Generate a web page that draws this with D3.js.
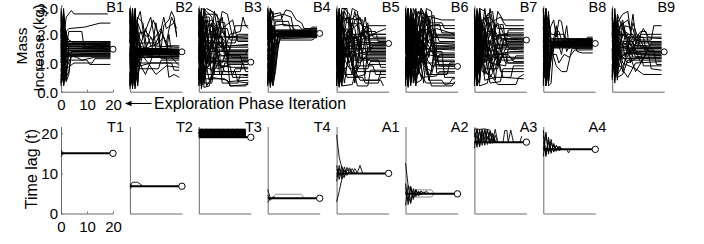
<!DOCTYPE html>
<html><head><meta charset="utf-8">
<script src="https://cdn.jsdelivr.net/npm/d3@7"></script>
<style>
body{margin:0;background:#fff}
svg{display:block}
text{font-family:"Liberation Sans",Arial,Helvetica,sans-serif;fill:#000}
</style>
</head><body>
<svg id="c" width="704" height="244"></svg>
<script>
// ---------- labels / ticks ----------
const topTitles = ["B1","B2","B3","B4","B5","B6","B7","B8","B9"];
const bottomTitles = ["T1","T2","T3","T4","A1","A2","A3","A4"];
const xTicks = [0,10,20];
const topYTicks = [0,1,2,3];
const bottomYTicks = [0,10,20];
const topYLabel = ["Mass","Increase (kg)"];
const bottomYLabel = "Time lag (t)";
const xNote = "Exploration Phase Iteration";

// ---------- final (converged) values, marked with circles ----------
const topFinal = [1.48,1.39,1.03,2.03,1.68,0.88,1.80,1.68,1.39];
const bottomFinal = [15,6.8,19,3.8,10,4.9,17.8,16];

// ---------- top row: mass increase traces, [iteration, kg] ----------
const b1Lines = [
 [[0,2.8],[1,0.5],[2,1.6],[20,1.48]],
 [[0,0.3],[1,2.6],[2,1.7],[5,1.65],[19,1.65]],
 [[0,1.9],[1,0.9],[2,2.1],[3,1.3],[19,1.3]],
 [[0,2.5],[1,1.2],[2,0.4],[3,1.5],[19,1.55]],
 [[0,1.2],[1,2.7],[2,1.75],[19,1.72]],
 [[0,0.7],[1,2.0],[2,1.2],[4,1.4],[19,1.4]],
 [[0,2.2],[1,0.3],[2,1.0],[3,1.6],[19,1.6]],
 [[0,1.5],[1,2.3],[2,0.8],[4,1.25],[19,1.25]],
 [[0,2.0],[1,1.0],[3,2.1],[8,2.1],[9,1.5],[19,1.5]],
 [[0,0.5],[1,1.8],[2,2.6],[4,2.83],[5,2.71],[18,2.71]],
 [[0,1.0],[1,2.0],[3,2.2],[9,2.25],[15,2.39],[19,2.39]],
 [[0,2.4],[1,0.6],[2,1.1],[10,1.1],[11,0.95],[19,0.95]],
 [[0,1.7],[1,0.2],[2,0.8],[5,1.0],[12,1.0],[13,1.15],[19,1.15]],
 [[0,2.6],[1,1.5],[2,0.5],[3,0.7],[4,1.3],[19,1.35]],
 [[0,0.9],[1,1.4],[2,2.0],[3,1.8],[5,1.7],[19,1.7]],
 [[0,2.1],[1,1.7],[2,1.3],[6,1.2],[8,1.1],[13,1.2],[19,1.2]],
 [[0,1.3],[1,2.4],[2,1.45],[19,1.45]],
 [[0,0.4],[1,1.1],[2,1.9],[3,1.55],[19,1.58]],
 [[0,2.3],[1,0.8],[2,1.7],[19,1.62]],
 [[0,1.6],[1,2.9],[2,1.35],[19,1.33]],
 [[0,0.6],[1,0.3],[2,1.5],[19,1.52]],
 [[0,1.8],[1,1.2],[2,1.68],[19,1.68]],
 [[0,2.0],[1,0.7],[2,0.35],[3,0.6],[4,1.4],[19,1.42]],
 [[0,2.7],[1,1.4],[2,1.75],[19,1.75]],
 [[0,0.2],[1,1.6],[2,1.27],[19,1.27]],
 [[0,1.1],[1,2.2],[2,1.57],[19,1.57]],
 [[0,2.9],[1,1.9],[2,1.22],[19,1.22]],
 [[0,0.8],[1,0.4],[2,1.74],[19,1.74]],
 [[0,2.5],[1,2.0],[2,1.38],[19,1.38]],
 [[0,0.3],[1,0.9],[2,1.65],[19,1.6]],
 [[0,1.4],[1,2.8],[2,1.5],[19,1.47]],
 [[0,2.2],[1,0.2],[2,1.3],[19,1.32]],
 [[0,1.0],[1,1.6],[2,0.6],[3,1.44],[19,1.44]]
];
const b2Lines = [
 [[0,2.9],[1,0.1],[2,2.5],[3,0.3],[4,1.4],[20,1.39]],
 [[0,0.2],[1,2.8],[2,0.5],[3,1.8],[5,1.35],[19,1.35]],
 [[0,1.5],[1,0.2],[2,2.7],[3,1.0],[5,1.5],[10,1.3],[19,1.3]],
 [[0,2.6],[1,1.0],[2,0.2],[3,2.3],[4,1.2],[19,1.25]],
 [[0,0.8],[1,2.4],[2,1.4],[3,2.0],[6,1.45],[19,1.45]],
 [[0,2.0],[1,0.4],[2,1.9],[4,0.9],[8,1.0],[19,1.0]],
 [[0,0.1],[1,1.7],[2,2.9],[3,1.3],[19,1.4]],
 [[0,2.3],[2,1.0],[4,2.1],[7,1.9],[9,2.5],[11,2.0],[12,1.4],[19,1.42]],
 [[0,1.2],[1,2.6],[3,0.2],[4,1.6],[6,2.2],[8,1.6],[19,1.55]],
 [[0,2.8],[1,1.8],[2,0.6],[4,1.35],[14,1.35],[15,2.0],[16,1.33],[19,1.33]],
 [[0,0.5],[1,2.2],[2,1.1],[4,0.8],[11,0.8],[12,1.1],[19,1.1]],
 [[0,1.9],[1,0.7],[2,1.5],[12,1.5],[13,2.3],[15,2.5],[16,2.8],[17,2.6],[18,1.9]],
 [[0,2.5],[1,0.3],[2,2.0],[6,2.1],[9,1.8],[12,2.2],[14,1.6],[19,1.6]],
 [[0,0.9],[1,2.9],[2,1.2],[14,1.2],[15,0.5],[17,0.6],[19,0.5]],
 [[0,1.6],[1,0.2],[3,1.4],[19,1.38]],
 [[0,2.2],[1,1.3],[2,0.3],[3,0.6],[5,1.3],[19,1.28]],
 [[0,0.4],[1,2.5],[2,1.7],[6,1.5],[8,1.2],[10,2.4],[12,1.3],[19,1.36]],
 [[0,2.7],[2,0.9],[4,1.5],[15,1.5],[16,1.2],[19,0.9]],
 [[0,1.0],[1,1.9],[2,0.8],[3,1.45],[19,1.4]],
 [[0,1.8],[1,0.6],[2,2.6],[3,1.2],[19,1.2]],
 [[0,0.3],[1,1.4],[2,2.2],[5,1.32],[19,1.32]],
 [[0,2.4],[1,2.1],[3,1.7],[10,1.7],[12,2.1],[14,1.7],[16,2.6],[18,2.2]],
 [[0,1.3],[1,0.15],[2,1.0],[16,1.0],[17,0.75],[19,0.75]],
 [[0,2.1],[1,0.9],[2,1.47],[19,1.47]],
 [[0,2.0],[1,2.7],[2,1.36],[19,1.36]],
 [[0,0.6],[1,0.2],[2,1.3],[19,1.3]],
 [[0,2.8],[1,0.5],[2,1.44],[19,1.44]],
 [[0,1.1],[1,2.3],[2,0.4],[3,1.26],[19,1.24]],
 [[0,0.2],[1,1.5],[2,2.9],[3,1.5],[19,1.52]],
 [[0,2.5],[1,1.2],[2,1.34],[19,1.34]],
 [[0,1.7],[1,2.9],[2,0.9],[3,2.4],[5,1.9],[8,2.6],[10,1.6],[13,1.9],[15,1.4],[19,1.4]],
 [[0,0.6],[1,1.2],[2,0.1],[3,1.1],[6,0.6],[9,1.3],[19,1.3]],
 [[0,2.2],[1,0.8],[2,2.3],[4,2.8],[6,1.5],[11,1.7],[13,2.6],[14,2.2],[17,2.4],[18,2.0]],
 [[0,1.4],[1,0.4],[2,1.6],[7,1.0],[10,0.6],[14,0.9],[19,0.85]],
 [[0,2.9],[1,1.6],[2,2.1],[4,1.1],[8,1.9],[12,1.15],[19,1.15]],
 [[0,0.3],[1,2.0],[2,0.7],[3,2.6],[5,2.4],[7,1.2],[19,1.23]]
];
const b3Lines = [
 [[0,2.8],[1,0.4],[2,1.9],[4,1.2],[8,1.05],[20,1.03]],
 [[0,0.2],[1,2.9],[3,2.8],[5,2.6],[6,2.0],[9,1.6],[19,1.6]],
 [[0,2.5],[1,1.1],[2,0.3],[5,0.3],[6,0.9],[12,0.9],[13,0.5],[19,0.5]],
 [[0,1.4],[1,2.6],[3,2.7],[7,2.7],[8,2.2],[11,2.2],[12,1.8],[19,1.8]],
 [[0,0.6],[1,1.8],[2,2.9],[4,1.4],[10,1.4],[11,1.2],[19,1.2]],
 [[0,2.1],[1,0.2],[2,0.9],[6,0.7],[14,0.7],[15,0.35],[19,0.3]],
 [[0,2.9],[2,2.4],[5,2.5],[8,2.1],[10,1.5],[12,2.0],[16,2.1],[17,2.6],[18,2.3],[19,2.2]],
 [[0,1.0],[1,2.2],[3,1.0],[9,1.0],[10,1.3],[19,1.3]],
 [[0,1.7],[1,0.5],[2,1.5],[7,1.5],[8,0.6],[13,0.6],[14,0.8],[19,0.8]],
 [[0,0.3],[1,1.3],[2,2.0],[6,2.0],[7,1.7],[14,1.7],[15,2.0],[19,2.0]],
 [[0,2.6],[1,1.6],[3,0.2],[5,0.5],[11,0.4],[12,0.2],[19,0.25]],
 [[0,1.2],[1,2.7],[2,1.1],[3,2.3],[6,2.3],[7,1.9],[19,1.95]],
 [[0,2.3],[1,0.8],[2,1.3],[4,0.4],[8,1.1],[19,1.1]],
 [[0,0.5],[1,2.4],[3,1.6],[5,1.8],[11,1.45],[19,1.45]],
 [[0,1.9],[1,2.8],[2,1.7],[4,2.4],[7,2.0],[9,2.6],[11,1.3],[18,1.3],[19,1.5]],
 [[0,0.8],[1,0.2],[2,1.2],[6,1.2],[7,0.8],[11,0.9],[12,1.6],[19,1.65]],
 [[0,2.0],[1,1.0],[3,0.6],[9,0.6],[10,1.0],[17,1.0],[18,0.7],[19,0.7]],
 [[0,2.7],[1,1.4],[2,0.7],[4,2.0],[8,2.4],[10,1.9],[19,1.85]],
 [[0,1.5],[1,0.3],[2,2.5],[3,1.9],[9,1.9],[10,1.15],[19,1.15]],
 [[0,0.4],[1,2.0],[2,0.45],[10,0.45],[11,0.35],[19,0.4]],
 [[0,2.4],[1,1.9],[2,2.8],[3,2.9],[6,2.75],[8,2.5],[9,1.4],[19,1.4]],
 [[0,1.1],[1,2.3],[2,0.6],[5,1.6],[9,1.25],[16,1.25],[17,0.95],[19,0.95]],
 [[0,2.2],[1,0.1],[3,1.0],[6,2.2],[8,0.9],[13,0.85],[19,0.85]],
 [[0,1.3],[1,2.9],[2,0.3],[4,1.7],[9,1.7],[10,1.35],[19,1.35]],
 [[0,0.2],[1,0.8],[2,2.2],[5,2.1],[6,0.6],[19,0.6]],
 [[0,2.9],[1,2.1],[2,1.05],[19,1.05]],
 [[0,1.6],[1,0.4],[2,2.6],[4,2.6],[5,1.55],[19,1.55]],
 [[0,0.7],[1,1.5],[2,0.15],[4,0.2],[7,1.25],[19,1.25]],
 [[0,2.3],[1,2.6],[2,1.8],[6,1.75],[7,2.45],[10,2.4],[11,0.95],[19,0.95]],
 [[0,1.8],[1,0.6],[2,2.9],[3,2.6],[6,1.4],[9,2.8],[11,2.7],[13,1.9],[19,1.9]],
 [[0,0.9],[1,2.5],[2,0.8],[4,0.9],[7,2.3],[9,0.3],[15,0.3],[16,0.6],[19,0.55]],
 [[0,2.5],[1,0.2],[2,1.6],[5,0.7],[8,2.0],[12,1.5],[14,2.3],[19,2.3]],
 [[0,0.4],[1,2.2],[2,1.4],[5,2.4],[7,1.2],[10,0.7],[16,0.7],[17,1.1],[19,1.1]],
 [[0,2.0],[1,2.8],[2,0.5],[4,1.0],[6,2.8],[8,1.6],[13,1.2],[19,1.2]],
 [[0,1.2],[1,0.5],[2,2.1],[3,0.9],[5,1.9],[10,2.1],[12,0.2],[18,0.2],[19,0.35]],
 [[0,2.7],[1,1.7],[2,2.4],[5,1.0],[9,2.2],[13,2.5],[15,1.75],[19,1.75]],
 [[0,0.6],[1,1.1],[3,2.5],[5,0.4],[7,1.45],[19,1.45]]
];
const b4Lines = [
 [[0,2.9],[1,0.3],[2,1.4],[3,2.0],[20,2.03]],
 [[0,0.2],[1,2.7],[2,2.0],[19,2.0]],
 [[0,1.5],[1,0.6],[2,2.2],[3,1.95],[19,1.95]],
 [[0,2.6],[1,1.2],[2,0.4],[3,1.3],[4,2.05],[19,2.05]],
 [[0,0.8],[1,2.9],[2,2.6],[4,2.65],[6,2.7],[9,2.6],[10,2.1],[19,2.1]],
 [[0,2.2],[1,0.15],[2,0.8],[3,1.7],[4,1.9],[19,1.9]],
 [[0,1.1],[1,2.3],[2,1.8],[3,2.15],[19,2.15]],
 [[0,2.8],[2,2.5],[5,2.5],[7,2.85],[9,2.8],[11,2.5],[13,2.4],[14,2.2],[19,2.2]],
 [[0,0.4],[1,1.0],[2,0.2],[3,0.7],[4,1.6],[5,2.0],[19,1.98]],
 [[0,1.8],[1,2.5],[2,1.1],[3,2.08],[19,2.08]],
 [[0,2.4],[1,0.5],[2,1.6],[3,1.8],[17,1.8],[18,1.85]],
 [[0,0.6],[1,1.9],[2,2.8],[3,2.0],[19,2.01]],
 [[0,1.3],[1,0.3],[2,0.5],[3,1.0],[4,1.9],[19,1.93]],
 [[0,2.0],[1,1.4],[2,2.3],[6,2.35],[9,2.3],[11,2.12],[19,2.12]],
 [[0,2.7],[1,0.9],[2,1.2],[3,2.1],[16,2.1],[17,2.25],[19,2.25]],
 [[0,0.3],[1,2.1],[2,1.95],[19,1.96]],
 [[0,1.6],[1,2.8],[2,0.6],[3,1.5],[5,1.85],[19,1.88]],
 [[0,2.5],[1,1.7],[2,2.04],[19,2.04]],
 [[0,1.0],[1,0.2],[2,1.1],[3,2.0],[19,1.99]],
 [[0,2.3],[1,1.1],[3,2.45],[8,2.45],[9,2.05],[19,2.06]],
 [[0,0.5],[1,0.9],[2,0.25],[3,0.9],[4,1.5],[5,2.02],[19,2.02]],
 [[0,1.9],[1,2.9],[2,2.7],[5,2.75],[6,2.3],[12,2.3],[13,2.18],[19,2.18]],
 [[0,2.9],[1,1.8],[2,1.97],[19,1.97]],
 [[0,0.6],[1,0.3],[2,1.5],[3,2.03],[19,2.03]],
 [[0,1.4],[1,2.6],[2,2.1],[19,2.1]],
 [[0,2.1],[1,0.7],[2,2.3],[3,1.92],[19,1.92]],
 [[0,0.25],[1,1.3],[2,0.9],[3,1.5],[4,2.07],[19,2.07]],
 [[0,2.5],[1,2.2],[2,2.14],[19,2.14]]
];
const b5Lines = [
 [[0,2.7],[1,0.3],[2,1.6],[6,1.8],[12,1.7],[20,1.68]],
 [[0,0.2],[1,2.8],[2,2.5],[5,2.6],[7,1.3],[12,1.4],[19,1.4]],
 [[0,1.9],[1,0.6],[2,0.2],[6,0.25],[8,0.9],[14,0.9],[15,0.6],[19,0.6]],
 [[0,2.4],[1,1.5],[3,2.8],[6,2.2],[9,2.4],[12,2.0],[19,2.0]],
 [[0,0.9],[1,2.2],[2,1.1],[4,0.5],[10,0.5],[11,0.3],[16,0.3],[17,0.5],[19,0.5]],
 [[0,1.5],[1,2.6],[2,0.8],[3,1.9],[8,1.9],[9,1.5],[19,1.5]],
 [[0,2.8],[1,1.2],[2,2.3],[5,1.2],[9,1.0],[11,1.2],[19,1.2]],
 [[0,0.5],[1,1.8],[2,2.8],[4,2.4],[8,2.7],[10,2.3],[13,2.2],[14,1.9],[19,1.9]],
 [[0,2.1],[1,0.2],[2,1.3],[5,0.8],[12,0.8],[13,1.05],[19,1.05]],
 [[0,1.2],[1,2.0],[2,0.4],[4,1.6],[9,1.6],[10,2.1],[15,2.1],[16,1.75],[19,1.75]],
 [[0,2.5],[1,0.9],[3,1.4],[7,1.4],[8,0.7],[19,0.7]],
 [[0,0.3],[1,1.4],[2,2.6],[3,2.0],[9,1.8],[12,2.4],[13,1.6],[19,1.6]],
 [[0,1.8],[1,2.9],[2,1.7],[5,1.0],[7,2.0],[10,1.3],[19,1.3]],
 [[0,0.7],[1,0.4],[2,2.0],[4,2.2],[6,0.9],[9,0.4],[17,0.4],[18,0.2]],
 [[0,2.2],[1,1.6],[2,0.6],[3,2.5],[5,2.6],[8,1.1],[16,1.1],[17,0.85],[19,0.85]],
 [[0,1.4],[1,2.4],[2,1.9],[4,1.2],[7,2.5],[9,2.6],[11,1.9],[19,2.2]],
 [[0,2.6],[1,0.7],[2,1.0],[3,0.3],[5,1.5],[11,1.5],[12,1.25],[19,1.25]],
 [[0,1.0],[1,1.9],[3,2.9],[5,2.7],[6,1.7],[19,1.72]],
 [[0,2.0],[1,0.3],[2,2.1],[3,0.6],[6,0.6],[7,1.9],[11,1.95],[12,1.45],[19,1.45]],
 [[0,0.4],[1,2.5],[2,1.5],[6,1.6],[8,1.0],[10,2.2],[12,0.95],[19,0.95]],
 [[0,2.9],[1,1.1],[2,0.3],[4,2.0],[7,0.3],[9,1.35],[19,1.35]],
 [[0,1.6],[1,0.15],[2,2.4],[4,2.55],[10,2.5],[11,1.8],[19,1.8]],
 [[0,1.1],[1,2.8],[2,0.6],[4,0.9],[6,2.4],[8,2.35],[9,1.15],[19,1.15]],
 [[0,2.3],[1,0.4],[2,1.8],[5,2.2],[7,0.5],[11,0.6],[12,1.55],[19,1.55]],
 [[0,0.6],[1,1.2],[2,2.9],[4,2.9],[5,2.0],[10,2.0],[11,1.85],[19,1.85]],
 [[0,2.6],[1,2.2],[2,1.2],[5,1.4],[8,0.2],[12,0.2],[13,0.75],[19,0.75]],
 [[0,1.7],[1,0.2],[2,0.9],[3,2.2],[6,1.65],[19,1.65]],
 [[0,0.9],[1,2.6],[3,1.1],[7,2.8],[9,2.0],[12,2.1],[13,1.35],[19,1.35]],
 [[0,1.3],[1,2.3],[2,0.2],[3,1.2],[6,2.9],[8,2.8],[10,1.1],[14,1.6],[19,1.6]],
 [[0,2.4],[1,0.6],[3,2.0],[6,0.9],[9,2.1],[11,0.4],[16,0.4],[17,0.7],[19,0.7]],
 [[0,0.2],[1,1.7],[2,2.2],[4,1.7],[7,0.8],[10,1.85],[15,2.0],[19,2.0]],
 [[0,2.8],[1,2.0],[2,1.4],[4,2.6],[7,2.2],[9,1.2],[13,1.1],[19,1.1]],
 [[0,1.6],[1,0.3],[2,2.7],[3,1.5],[6,0.6],[9,0.9],[12,2.3],[19,2.3]],
 [[0,0.8],[1,2.9],[2,1.0],[5,1.9],[8,1.4],[11,2.6],[13,1.5],[19,1.5]]
];
const b6Lines = [
 [[0,2.8],[1,0.3],[2,2.5],[3,0.6],[6,1.4],[10,0.9],[20,0.88]],
 [[0,0.2],[1,2.9],[2,1.0],[4,2.7],[6,2.8],[8,2.0],[12,2.2],[19,2.0]],
 [[0,1.7],[1,0.5],[2,2.8],[3,1.5],[7,1.6],[9,0.4],[14,0.4],[15,0.25],[19,0.3]],
 [[0,2.4],[1,1.2],[2,0.2],[4,1.8],[8,1.8],[9,2.6],[11,1.5],[19,1.5]],
 [[0,0.6],[1,2.2],[2,1.7],[3,0.3],[6,2.4],[9,2.5],[11,1.1],[19,1.1]],
 [[0,2.9],[1,1.8],[2,0.7],[4,0.7],[5,2.0],[7,2.6],[10,1.9],[19,1.85]],
 [[0,1.1],[1,0.2],[2,2.0],[4,1.2],[6,0.5],[12,0.55],[13,0.7],[19,0.7]],
 [[0,2.0],[1,2.6],[2,0.4],[3,2.7],[5,1.3],[8,1.2],[10,1.7],[19,1.65]],
 [[0,0.4],[1,1.5],[2,2.9],[4,2.3],[7,1.0],[12,1.0],[13,1.3],[19,1.3]],
 [[0,2.6],[1,0.7],[2,1.4],[3,2.2],[5,0.9],[7,2.2],[9,2.4],[14,2.4],[15,2.2],[19,2.2]],
 [[0,1.4],[1,2.4],[2,0.3],[3,1.0],[8,0.3],[17,0.3],[18,0.45],[19,0.45]],
 [[0,2.2],[1,1.0],[2,2.6],[4,0.5],[6,1.6],[11,1.4],[12,0.8],[19,0.8]],
 [[0,0.8],[1,2.8],[2,1.2],[3,1.9],[5,2.8],[7,2.7],[8,1.5],[19,1.45]],
 [[0,1.9],[1,0.4],[2,1.8],[4,2.5],[6,1.1],[9,1.8],[12,1.95],[19,1.95]],
 [[0,2.7],[1,1.4],[2,0.6],[3,2.4],[5,1.7],[9,0.6],[16,0.6],[17,1.0],[19,1.0]],
 [[0,0.3],[1,2.1],[2,1.6],[4,0.3],[6,0.4],[8,1.3],[14,1.2],[19,1.2]],
 [[0,1.6],[1,2.9],[2,2.2],[5,2.3],[6,2.9],[8,2.5],[10,1.6],[19,1.6]],
 [[0,2.3],[1,0.9],[2,2.4],[3,0.8],[5,2.1],[8,0.8],[10,0.2],[18,0.2],[19,0.35]],
 [[0,1.0],[1,1.7],[2,0.5],[4,1.5],[6,2.0],[9,1.2],[11,2.2],[13,1.75],[19,1.75]],
 [[0,2.5],[1,0.6],[2,1.9],[3,1.2],[6,1.3],[8,2.7],[10,2.1],[12,1.05],[19,1.05]],
 [[0,0.5],[1,2.5],[2,0.9],[3,2.9],[5,2.6],[7,0.9],[10,0.7],[11,1.55],[19,1.55]],
 [[0,2.1],[1,0.15],[2,1.3],[4,2.0],[7,0.3],[9,2.3],[13,2.35],[14,2.05],[19,2.05]],
 [[0,1.3],[1,2.0],[3,0.8],[5,1.8],[8,2.6],[11,2.65],[12,1.35],[19,1.35]],
 [[0,2.8],[1,1.3],[2,0.5],[4,2.8],[6,2.7],[8,0.6],[10,0.6],[11,0.95],[19,0.95]],
 [[0,0.4],[1,2.4],[2,1.1],[4,0.2],[7,2.1],[10,2.3],[12,1.9],[19,1.9]],
 [[0,1.8],[1,0.6],[2,2.9],[3,2.1],[6,1.0],[9,1.4],[14,1.4],[15,0.5],[19,0.5]],
 [[0,2.3],[1,2.8],[2,1.5],[4,1.1],[6,2.5],[9,1.7],[19,1.7]],
 [[0,1.2],[1,0.3],[2,1.6],[5,0.8],[7,1.9],[11,1.25],[19,1.25]],
 [[0,2.6],[1,1.9],[2,0.8],[3,1.4],[6,2.9],[8,2.6],[9,2.3],[19,2.3]],
 [[0,1.5],[1,2.7],[2,0.3],[4,2.2],[6,1.0],[8,2.8],[10,2.0],[13,0.9],[19,0.9]],
 [[0,2.9],[1,0.4],[2,1.3],[3,2.6],[5,0.6],[7,1.5],[10,2.6],[14,2.5],[19,2.5]],
 [[0,0.7],[1,1.6],[2,2.7],[4,0.9],[6,2.2],[9,0.4],[12,1.6],[19,1.55]],
 [[0,2.1],[1,2.9],[2,1.0],[3,0.5],[6,1.8],[8,1.0],[11,2.0],[19,2.0]],
 [[0,1.0],[1,0.2],[2,2.3],[4,2.9],[6,0.8],[9,2.2],[12,1.2],[19,1.2]],
 [[0,2.4],[1,1.4],[2,2.0],[4,0.4],[6,1.4],[8,2.9],[10,2.8],[12,0.65],[19,0.65]]
];
const b7Lines = [
 [[0,2.7],[1,0.4],[2,2.0],[4,1.6],[8,1.85],[20,1.8]],
 [[0,0.2],[1,2.8],[2,1.0],[3,2.5],[6,2.6],[9,2.2],[19,2.2]],
 [[0,1.8],[1,0.6],[2,0.2],[5,0.3],[7,1.3],[12,1.3],[13,1.0],[19,1.0]],
 [[0,2.4],[1,1.5],[2,2.9],[4,2.8],[6,2.0],[9,2.4],[11,1.6],[19,1.6]],
 [[0,0.9],[1,2.1],[2,1.4],[4,0.8],[9,0.8],[10,1.2],[19,1.2]],
 [[0,2.9],[1,1.1],[2,0.5],[3,2.2],[7,1.9],[10,2.0],[19,2.0]],
 [[0,1.3],[1,2.5],[2,1.8],[5,2.7],[7,2.8],[9,1.5],[19,1.45]],
 [[0,0.5],[1,1.7],[2,2.6],[3,0.7],[6,0.6],[9,0.25],[16,0.25],[17,0.5],[19,0.6]],
 [[0,2.2],[1,0.3],[2,1.6],[7,1.7],[8,2.3],[11,2.35],[12,1.75],[19,1.75]],
 [[0,1.5],[1,2.9],[2,1.2],[4,1.9],[6,1.0],[12,0.9],[13,1.5],[19,1.5]],
 [[0,2.5],[1,0.8],[2,2.3],[4,2.1],[6,0.5],[8,0.8],[12,2.0],[14,1.9],[19,1.9]],
 [[0,0.4],[1,1.3],[2,0.8],[3,1.5],[9,1.4],[10,0.7],[19,0.7]],
 [[0,1.9],[1,2.6],[2,0.3],[4,2.3],[8,2.5],[10,2.6],[12,2.3],[19,2.3]],
 [[0,1.0],[1,0.2],[2,2.2],[3,1.1],[7,1.1],[8,1.65],[19,1.65]],
 [[0,2.6],[1,1.9],[2,0.9],[5,1.3],[10,1.1],[12,1.35],[19,1.35]],
 [[0,0.7],[1,2.4],[2,1.7],[4,0.4],[8,0.5],[14,0.5],[15,0.9],[19,0.9]],
 [[0,2.1],[1,1.0],[3,2.4],[5,1.5],[9,1.9],[13,2.05],[19,2.05]],
 [[0,1.2],[1,2.0],[2,2.8],[3,1.3],[7,2.2],[9,1.1],[15,1.1],[16,1.25],[19,1.25]],
 [[0,2.8],[1,0.5],[2,1.5],[4,2.9],[6,1.4],[10,1.55],[19,1.55]],
 [[0,0.3],[1,1.6],[2,2.4],[4,1.0],[7,2.0],[11,1.85],[19,1.85]],
 [[0,1.6],[1,2.2],[2,0.6],[4,1.7],[6,2.4],[9,1.3],[14,1.4],[19,1.4]],
 [[0,1.1],[1,2.7],[2,0.6],[4,1.8],[7,0.9],[10,1.0],[11,1.7],[19,1.7]],
 [[0,2.4],[1,0.2],[2,1.9],[4,2.6],[6,2.7],[8,1.2],[14,1.2],[15,1.05],[19,1.05]],
 [[0,0.6],[1,1.4],[2,2.9],[3,2.0],[6,0.3],[10,0.35],[11,0.8],[19,0.8]],
 [[0,2.7],[1,2.2],[2,1.1],[5,2.1],[8,2.1],[9,1.95],[19,1.95]],
 [[0,1.5],[1,0.7],[2,2.5],[4,1.2],[7,1.6],[12,1.6],[13,2.15],[19,2.15]],
 [[0,0.3],[1,2.1],[2,1.3],[5,0.6],[9,1.3],[13,1.3],[14,1.15],[19,1.15]],
 [[0,2.0],[1,2.8],[2,0.4],[4,2.2],[6,1.0],[9,2.8],[11,2.5],[19,2.5]],
 [[0,0.8],[1,1.9],[2,2.6],[4,0.6],[6,1.8],[9,0.9],[13,1.7],[19,1.7]],
 [[0,2.6],[1,0.9],[3,1.4],[5,2.6],[8,1.5],[11,0.5],[19,0.45]],
 [[0,1.4],[1,0.3],[2,2.0],[4,1.2],[6,2.9],[8,2.0],[12,1.0],[19,1.0]],
 [[0,2.3],[1,1.5],[2,2.9],[4,1.6],[7,0.7],[10,2.3],[13,1.55],[19,1.55]],
 [[0,0.5],[1,2.3],[2,1.1],[5,2.0],[8,0.4],[10,1.8],[19,1.8]]
];
const b8Lines = [
 [[0,2.9],[1,0.3],[2,1.5],[3,1.7],[20,1.68]],
 [[0,0.2],[1,2.7],[2,1.2],[4,1.75],[19,1.75]],
 [[0,1.6],[1,0.5],[2,2.8],[3,1.6],[19,1.6]],
 [[0,2.4],[1,1.3],[2,0.3],[3,1.2],[4,1.8],[19,1.78]],
 [[0,0.8],[1,2.2],[2,1.7],[19,1.72]],
 [[0,2.2],[1,0.9],[2,2.0],[3,2.3],[4,2.5],[5,1.9],[6,2.5],[7,2.45],[8,1.9],[9,1.4],[10,1.6],[19,1.62]],
 [[0,1.2],[1,2.6],[2,0.7],[3,1.4],[5,2.3],[6,1.6],[7,1.3],[9,2.3],[10,1.5],[11,1.6],[19,1.65]],
 [[0,2.7],[1,1.8],[2,0.4],[3,1.5],[5,0.9],[7,0.7],[9,0.7],[10,1.1],[11,1.5],[19,1.5]],
 [[0,0.4],[1,1.5],[2,2.3],[3,1.85],[19,1.85]],
 [[0,1.9],[1,0.2],[2,1.0],[4,1.55],[19,1.55]],
 [[0,0.6],[1,2.9],[2,1.8],[5,1.7],[19,1.7]],
 [[0,2.5],[1,0.6],[2,1.4],[3,1.3],[5,1.3],[6,1.0],[8,1.3],[10,1.2],[12,1.45],[19,1.46]],
 [[0,1.4],[1,2.4],[2,0.2],[3,0.3],[4,1.6],[5,2.1],[6,2.1],[7,1.8],[19,1.8]],
 [[0,2.0],[1,1.1],[2,2.5],[3,1.65],[19,1.66]],
 [[0,0.3],[1,1.9],[2,0.9],[3,1.75],[16,1.75],[17,1.9],[19,1.9]],
 [[0,2.8],[1,1.6],[2,1.1],[3,1.58],[19,1.58]],
 [[0,1.0],[1,0.4],[2,2.1],[3,1.7],[12,1.7],[13,1.4],[15,1.35],[19,1.35]],
 [[0,1.7],[1,2.8],[3,2.0],[8,2.0],[9,1.82],[19,1.82]],
 [[0,2.3],[1,0.3],[2,0.6],[3,1.1],[4,1.62],[19,1.63]],
 [[0,0.5],[1,2.1],[2,1.35],[3,1.68],[19,1.69]],
 [[0,2.6],[1,0.8],[2,1.9],[3,1.52],[19,1.53]],
 [[0,2.2],[1,2.9],[2,1.72],[19,1.73]],
 [[0,0.4],[1,0.7],[2,1.61],[19,1.61]],
 [[0,1.5],[1,2.3],[2,0.3],[3,1.77],[19,1.77]],
 [[0,2.9],[1,1.0],[2,1.64],[19,1.64]],
 [[0,0.9],[1,1.7],[2,2.6],[3,1.56],[19,1.56]],
 [[0,1.8],[1,0.2],[2,1.83],[19,1.83]]
];
const b9Lines = [
 [[0,2.6],[1,0.6],[2,1.8],[5,1.5],[10,1.4],[20,1.39]],
 [[0,0.5],[1,2.7],[2,1.2],[4,2.0],[8,2.0],[9,1.7],[19,1.7]],
 [[0,1.8],[1,0.8],[2,2.4],[4,2.7],[6,2.8],[7,2.1],[8,2.7],[9,1.9],[19,1.85]],
 [[0,2.3],[1,1.4],[2,0.5],[4,0.6],[6,1.1],[19,1.1]],
 [[0,0.7],[1,2.0],[2,1.5],[6,1.6],[8,1.2],[12,1.25],[19,1.25]],
 [[0,2.8],[1,1.1],[2,0.4],[3,1.7],[10,1.6],[11,2.0],[19,2.0]],
 [[0,1.2],[1,2.5],[2,2.0],[4,1.0],[9,0.8],[12,0.6],[19,0.6]],
 [[0,2.0],[1,0.5],[2,1.3],[5,2.3],[8,2.2],[10,1.5],[19,1.5]],
 [[0,0.9],[1,1.8],[2,0.7],[4,1.3],[11,1.35],[12,0.9],[19,0.9]],
 [[0,2.5],[1,2.1],[2,1.0],[3,2.3],[6,2.5],[8,1.8],[15,1.8],[16,2.3],[19,2.3]],
 [[0,1.5],[1,0.4],[2,2.6],[3,1.2],[7,1.4],[14,1.3],[15,0.8],[19,0.75]],
 [[0,0.6],[1,1.6],[2,2.2],[5,1.9],[12,1.9],[13,1.45],[19,1.45]],
 [[0,2.2],[1,0.9],[3,1.55],[19,1.55]],
 [[0,1.1],[1,2.3],[2,0.8],[3,0.9],[6,0.5],[9,1.0],[19,1.05]],
 [[0,1.9],[1,1.2],[2,2.7],[4,2.2],[7,1.6],[11,2.1],[13,2.1],[14,1.65],[19,1.65]],
 [[0,2.4],[1,0.7],[2,1.6],[4,1.15],[19,1.18]],
 [[0,0.4],[1,2.9],[2,1.9],[4,1.75],[8,1.75],[9,1.3],[19,1.3]],
 [[0,1.4],[1,2.2],[2,0.9],[5,1.95],[9,1.6],[13,1.6],[14,1.4],[19,1.4]],
 [[0,2.7],[1,1.0],[2,1.45],[6,1.0],[10,1.2],[19,1.2]],
 [[0,0.8],[1,2.6],[2,1.35],[19,1.35]],
 [[0,2.9],[1,0.6],[2,1.7],[5,1.5],[19,1.52]],
 [[0,1.6],[1,1.9],[2,0.6],[4,0.9],[8,1.6],[19,1.6]],
 [[0,2.1],[1,0.3],[2,2.0],[6,1.95],[9,1.2],[14,1.15],[19,1.15]],
 [[0,0.5],[1,1.3],[2,2.3],[5,2.1],[10,1.75],[19,1.75]],
 [[0,2.3],[1,1.6],[2,1.0],[4,1.45],[16,1.45],[17,0.95],[19,0.95]],
 [[0,1.3],[1,2.4],[2,0.6],[4,2.4],[7,1.0],[10,2.0],[13,1.35],[19,1.35]],
 [[0,2.6],[1,0.5],[2,1.9],[4,0.7],[7,1.9],[11,1.0],[15,1.7],[19,1.7]],
 [[0,0.7],[1,1.5],[2,2.5],[5,1.2],[8,2.4],[11,1.55],[19,1.55]],
 [[0,2.0],[1,2.6],[2,1.2],[5,1.7],[9,0.7],[13,1.3],[19,1.25]],
 [[0,1.5],[1,0.8],[2,2.0],[4,2.5],[7,1.3],[12,2.2],[14,1.9],[19,1.9]]
];
const topLines = [b1Lines,b2Lines,b3Lines,b4Lines,b5Lines,b6Lines,b7Lines,b8Lines,b9Lines];

// ---------- bottom row: time-lag traces, [iteration, t] ----------
const t1Lines = [
 [[0,15.8],[1,15]],
 [[0,14.2],[1,15]]
];
const t2Lines = [
 [[0,6.8],[1,7.8],[3,7.8],[4,7.3],[5,6.8]],
 [[0,7.4],[1,6.8]],
 [[0,6.2],[1,6.8]]
];
const t3Lines = [
 [[0,19.2],[1,21],[2,19.2],[3,21],[4,19.2],[5,21],[6,19.2],[7,21],[8,19.2],[9,21],[10,19.2],[11,21],[12,19.2],[13,21],[14,19.2],[15,21],[16,19.2],[17,21],[18,19.2]],
 [[0,21],[1,19.2],[2,21],[3,19.2],[4,21],[5,19.2],[6,21],[7,19.2],[8,21],[9,19.2],[10,21],[11,19.2],[12,21],[13,19.2],[14,21],[15,19.2],[16,21],[17,19.2],[18,21]],
 [[0,20.1],[0.5,21],[1.5,19.2],[2.5,21],[3.5,19.2],[4.5,21],[5.5,19.2],[6.5,21],[7.5,19.2],[8.5,21],[9.5,19.2],[10.5,21],[11.5,19.2],[12.5,21],[13.5,19.2],[14.5,21],[15.5,19.2],[16.5,21],[17.5,19.2],[18,20.1]],
 [[0,20.1],[0.5,19.2],[1.5,21],[2.5,19.2],[3.5,21],[4.5,19.2],[5.5,21],[6.5,19.2],[7.5,21],[8.5,19.2],[9.5,21],[10.5,19.2],[11.5,21],[12.5,19.2],[13.5,21],[14.5,19.2],[15.5,21],[16.5,19.2],[17.5,21],[18,20.1]],
 [[0,20.1],[1,21],[2,20.1],[3,19.2],[4,20.1],[5,21],[6,20.1],[7,19.2],[8,20.1],[9,21],[10,20.1],[11,19.2],[12,20.1],[13,21],[14,20.1],[15,19.2],[16,20.1],[17,21],[18,20.1]],
 [[0,20.1],[1,19.2],[2,20.1],[3,21],[4,20.1],[5,19.2],[6,20.1],[7,21],[8,20.1],[9,19.2],[10,20.1],[11,21],[12,20.1],[13,19.2],[14,20.1],[15,21],[16,20.1],[17,19.2],[18,20.1]],
 [[0,21],[18,21]],
 [[0,20.1],[18,20.1]],
 [[0,19.2],[18,19.2]],
 [[18,19.2],[19,19]]
];
const t4Lines = [
 [[0,6.0],[1,3.8]],
 [[0,2.8],[1,3.8]],
 [[0,4.6],[1,3.3],[2,4.2],[3,3.8]]
];
const t4Gray = [
 [[2,3.8],[3,4.8],[13,4.8],[14,3.8]]
];
const a1Lines = [
 [[0,19.6],[1,14],[2,11.5],[3,10.5],[4,10]],
 [[0,2.9],[1,5.5],[2,8.5],[3,9.5],[4,10]],
 [[0,12],[1,8.5],[2,11.8],[3,9],[4,11.5],[5,10],[6,11.2],[7,10],[8,10.2],[9,12],[10,10]],
 [[0,8],[1,12],[2,9.2],[3,11.6],[4,9.5],[5,11],[6,10]],
 [[0,11],[1,9.5],[2,10.8],[3,9.8],[5,11.4],[6,10],[7,11.2],[8,10]],
 [[0,9.2],[1,11.2],[2,8.6],[3,10.8],[4,10]]
];
const a2Lines = [
 [[0,12.6],[1,7],[2,5.8],[3,5]],
 [[0,7.5],[1,2.2],[2,6.5],[3,3.5],[4,5.8],[5,4.4],[6,5.5],[7,5]],
 [[0,2.0],[1,7],[2,3],[3,6.2],[4,4.2],[5,5.6],[6,4.6],[7,5.4],[8,5]],
 [[0,5.5],[1,3.2],[2,6.8],[3,4],[4,6],[5,4.5],[6,5]],
 [[0,6.5],[1,4.5],[2,2.5],[3,5.5],[4,4.6],[5,5.3],[6,5]],
 [[3,5],[4,5.6],[5,5],[6,5.6],[7,5],[8,5.6],[9,5]]
];
const a2Gray = [
 [[2,5],[3,5.9],[10,5.9],[11,5]],
 [[2,5],[3,4.1],[10,4.1],[11,5]]
];
const a3Lines = [
 [[0,21],[1,16.5],[2,21],[3,17],[4,20.8],[5,17.2],[6,20.5],[7,17.5],[8,19.5],[9,17.8]],
 [[0,16.3],[1,21.1],[2,16.6],[3,20.9],[4,17],[5,21],[6,17.4],[7,20],[8,17.8]],
 [[0,19],[1,21],[2,18],[3,21],[4,18.5],[5,20.8],[6,18],[7,19.8],[8,18.2],[9,17.8]],
 [[0,21.1],[2,21],[4,21.1],[6,20.8],[7,19],[8,17.8]],
 [[0,17.5],[1,19.5],[2,16.8],[3,19.8],[4,17.6],[5,19.2],[6,17.9],[7,18.8],[8,17.8]],
 [[0,20],[1,17.2],[2,20.5],[3,18.2],[4,21],[5,18.5],[6,20.2],[7,18],[8,21],[9,17.8]],
 [[11,17.8],[11.7,20.7],[12.5,20.7],[13,17.8],[14,20.8],[15,17.8]],
 [[17.5,17.8],[18.2,19.3]]
];
const a4Lines = [
 [[0,20.8],[1,14.2],[2,19],[3,15],[4,17.5],[5,15.5],[6,16.5],[7,16]],
 [[0,14.2],[1,20.3],[2,14.8],[3,18.5],[4,15.3],[5,17],[6,15.7],[7,16]],
 [[0,19.5],[1,15],[2,18.2],[3,15.4],[4,17.2],[5,15.6],[6,16.8],[7,16]],
 [[0,16],[1,19.8],[2,15.2],[3,17.8],[4,15.4],[5,16.9],[6,16]],
 [[0,18],[1,14.6],[2,17.6],[3,16],[4,16.8],[5,15.8],[6,16.2],[6.5,16.7],[7,16]],
 [[9,16],[9.7,15.1],[10.4,16]]
];
const bottomLines = [t1Lines,t2Lines,t3Lines,t4Lines,a1Lines,a2Lines,a3Lines,a4Lines];
const bottomGray = [[],[],[],t4Gray,[],a2Gray,[],[]];

// ---------- drawing ----------
const svg = d3.select("#c");
const colLeft = i => 61 + i*68.9;
const panelW = 52;
const axisColor = "#6a6a6a";
const yTop = d3.scaleLinear().domain([0,3]).range([91.7,5.6]);
const yBot = d3.scaleLinear().domain([0,21.7]).range([213.5,126.5]);
const line = (x,y) => d3.line().x(d=>x(d[0])).y(d=>y(d[1]));

function axes(g, x, y, labeled, yTicks, xPad){
  const ax = g.append("g").attr("transform",`translate(0,${y(0)})`)
    .call(labeled ? d3.axisBottom(x).tickValues(xTicks).tickSizeInner(-2).tickSizeOuter(0).tickPadding(xPad)
                  : d3.axisBottom(x).tickValues([]).tickSizeOuter(0));
  const ay = g.append("g").attr("transform",`translate(${x(0)},0)`)
    .call(labeled ? d3.axisLeft(y).tickValues(yTicks).tickSizeInner(-2).tickSizeOuter(0).tickPadding(3)
                  : d3.axisLeft(y).tickValues([]).tickSizeOuter(0));
  // keep the topmost label fully inside the picture
  const yMax = y.domain()[1];
  ay.selectAll(".tick text").attr("dy", d => (y(d) < 10 ? "0.55em" : "0.36em"));
  [ax,ay].forEach(a=>{
    a.attr("font-family",null).attr("font-size",null);
    a.select(".domain").attr("stroke",axisColor).attr("stroke-width",1);
    a.selectAll(".tick line").attr("stroke",axisColor);
    a.selectAll(".tick text").attr("fill","#000").style("font-size","15px")
      .style("font-family",'"Liberation Sans",Arial,sans-serif');
  });
}

// top row
topLines.forEach((lines,i)=>{
  const x = d3.scaleLinear().domain([0,20]).range([colLeft(i), colLeft(i)+panelW]);
  const g = svg.append("g");
  axes(g, x, yTop, i===0, topYTicks, 7.3);
  g.selectAll("path.tr").data(lines).join("path").attr("class","tr")
    .attr("d", line(x,yTop)).attr("fill","none").attr("stroke","#000")
    .attr("stroke-width",1).attr("stroke-linejoin","round");
  g.append("circle").attr("cx",x(20)).attr("cy",yTop(topFinal[i])).attr("r",3)
    .attr("fill","#fff").attr("stroke","#000").attr("stroke-width",1);
  g.append("text").attr("x",colLeft(i)+63).attr("y",11.5).attr("text-anchor","end")
    .style("font-size","14.5px").text(topTitles[i]);
});

// bottom row
bottomLines.forEach((lines,i)=>{
  const x = d3.scaleLinear().domain([0,20]).range([colLeft(i), colLeft(i)+panelW]);
  const g = svg.append("g");
  axes(g, x, yBot, i===0, bottomYTicks, 8.3);
  g.selectAll("path.gr").data(bottomGray[i]).join("path").attr("class","gr")
    .attr("d", line(x,yBot)).attr("fill","none").attr("stroke","#8a8a8a").attr("stroke-width",1);
  g.selectAll("path.tr").data(lines).join("path").attr("class","tr")
    .attr("d", line(x,yBot)).attr("fill","none").attr("stroke","#000")
    .attr("stroke-width",i===2 ? 1.2 : 0.9).attr("stroke-linejoin","round");
  g.append("path").attr("d", line(x,yBot)([[0,bottomFinal[i]],[20,bottomFinal[i]]]))
    .attr("stroke","#000").attr("stroke-width",2).attr("fill","none");
  g.append("circle").attr("cx",x(20)).attr("cy",yBot(bottomFinal[i])).attr("r",3.2)
    .attr("fill","#fff").attr("stroke","#000").attr("stroke-width",1);
  g.append("text").attr("x",colLeft(i)+63).attr("y",131.5).attr("text-anchor","end")
    .style("font-size","14.5px").text(bottomTitles[i]);
});

// axis titles
svg.append("text").attr("transform","translate(21.5,46) rotate(-90)")
  .attr("text-anchor","middle").attr("dominant-baseline","central")
  .style("font-size","15.5px").text(topYLabel[0]);
svg.append("text").attr("transform","translate(38.5,48) rotate(-90)")
  .attr("text-anchor","middle").attr("dominant-baseline","central")
  .style("font-size","15px").text(topYLabel[1]);
svg.append("text").attr("transform","translate(31.5,169) rotate(-90)")
  .attr("text-anchor","middle").attr("dominant-baseline","central")
  .style("font-size","16px").text(bottomYLabel);

// arrow + note
svg.append("line").attr("x1",151.5).attr("y1",103.5).attr("x2",129).attr("y2",103.5)
  .attr("stroke","#000").attr("stroke-width",1);
svg.append("path").attr("d","M125,103.5L131.5,100.8L131.5,106.2Z").attr("fill","#000");
svg.append("text").attr("x",154).attr("y",109).style("font-size","16px").text(xNote);
</script>
</body></html>
